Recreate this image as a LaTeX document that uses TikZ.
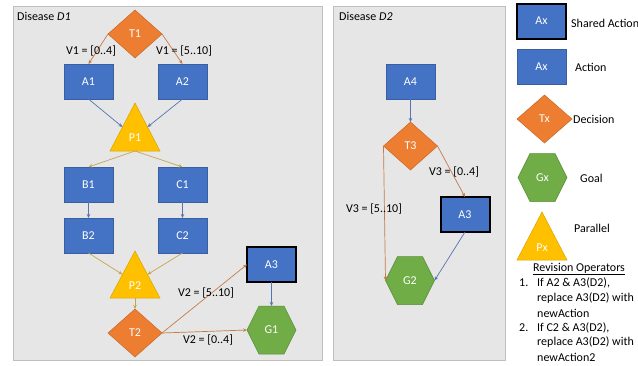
\documentclass[tikz,border=0pt]{standalone}
\usepackage{fontspec}
\setmainfont{Carlito}
\usetikzlibrary{shapes.geometric,calc,arrows.meta}
\definecolor{blu}{HTML}{4472C4}
\definecolor{bluD}{HTML}{3A5F9F}
\definecolor{org}{HTML}{ED7D31}
\definecolor{orgD}{HTML}{C8692A}
\definecolor{grn}{HTML}{70AD47}
\definecolor{grnD}{HTML}{5A8C3A}
\definecolor{gld}{HTML}{FFC000}
\definecolor{gldD}{HTML}{D9A400}
\definecolor{panel}{HTML}{E7E6E6}
\definecolor{panelD}{HTML}{BFBFBF}
\definecolor{eorg}{RGB}{197,122,72}
\definecolor{eblu}{RGB}{84,116,180}
\definecolor{egld}{RGB}{198,166,78}
\newcommand{\myhex}[1]{\draw[hexfill] (#1.west) -- ($(#1.north west)+(12,0)$) -- ($(#1.north east)+(-12,0)$) -- (#1.east) -- ($(#1.south east)+(-12,0)$) -- ($(#1.south west)+(12,0)$) -- cycle;}
\newcommand{\mytri}[1]{\draw[trifill] (#1.north) -- (#1.south east) -- (#1.south west) -- cycle;}
\begin{document}
\begin{tikzpicture}[x=1pt,y=-1pt,font=\fontsize{12}{14}\selectfont,
  actbox/.style={rectangle,fill=blu,draw=bluD,line width=0.5pt,minimum width=49pt,minimum height=35pt,inner sep=0,outer sep=0,text=white},
  sharedbox/.style={actbox,draw=black,line width=2pt},
  decbox/.style={diamond,fill=org,draw=orgD,line width=0.5pt,minimum width=54pt,minimum height=48pt,inner sep=0,outer sep=0,text=white,aspect=1.125},
  shapebox/.style={rectangle,minimum width=49pt,minimum height=48pt,inner sep=0,outer sep=0},
  hexfill/.style={fill=grn,draw=grnD,line width=0.5pt},
  trifill/.style={fill=gld,draw=gldD,line width=0.5pt},
  wtext/.style={text=white,inner sep=0},
  lbl/.style={text=black,inner sep=0},
  tip/.style={-{Stealth[length=4pt,width=3.5pt]}},
  oedge/.style={tip,draw=eorg,line width=0.7pt},
  bedge/.style={tip,draw=eblu,line width=0.7pt},
  gedge/.style={tip,draw=egld,line width=0.7pt},
  panelbox/.style={fill=panel,draw=panelD,line width=1pt}
]
\useasboundingbox (0,0) rectangle (638,365);
\fill[white] (0,0) rectangle (638,365);
% panels
\draw[panelbox] (13,6) rectangle (322,360);
\draw[panelbox] (333,6) rectangle (505,360);
\node[lbl,anchor=west] (d1) at (17,16) {Disease \textit{D1}};
\node[lbl,anchor=west] (d2) at (339,16) {Disease \textit{D2}};

% ---------- Disease D1 ----------
\node[decbox] (T1) at (135,34) {T1};
\node[actbox] (A1) at (88.5,81.5) {A1};
\node[actbox] (A2) at (182.5,81.5) {A2};
\node[shapebox,minimum width=50pt] (P1) at (135,127) {};
\mytri{P1}
\node[wtext] (P1t) at ($(P1.south)+(0,-13)$) {P1};
\node[actbox] (B1) at (88.5,184.5) {B1};
\node[actbox] (C1) at (182.5,184.5) {C1};
\node[actbox] (B2) at (88.5,235.5) {B2};
\node[actbox] (C2) at (182.5,235.5) {C2};
\node[shapebox,minimum width=50pt,minimum height=47pt] (P2) at (135,274.5) {};
\mytri{P2}
\node[wtext] (P2t) at ($(P2.south)+(0,-12)$) {P2};
\node[decbox] (T2) at (135,333) {T2};
\node[sharedbox] (A3) at (271.5,264.5) {A3};
\node[shapebox] (G1) at (271.5,330) {};
\myhex{G1}
\node[wtext] (G1t) at (G1) {G1};

\draw[oedge] (T1.west) -- (A1.north);
\draw[oedge] (T1.east) -- (A2.north);
\node[lbl] (v1a) at (91,51) {V1 = [0..4]};
\node[lbl] (v1b) at (184,51) {V1 = [5..10]};
\draw[bedge] (A1.south) -- ($(P1.north)!0.5!(P1.south west)$);
\draw[bedge] (A2.south) -- ($(P1.north)!0.5!(P1.south east)$);
\draw[gedge] (P1.south) -- (B1.north);
\draw[gedge] (P1.south) -- (C1.north);
\draw[bedge] (B1.south) -- (B2.north);
\draw[bedge] (C1.south) -- (C2.north);
\draw[gedge] (B2.south) -- ($(P2.north)!0.5!(P2.south west)$);
\draw[gedge] (C2.south) -- ($(P2.north)!0.5!(P2.south east)$);
\draw[gedge] (P2.south) -- (T2.north);
\draw[oedge] (T2.east) -- (A3.west);
\draw[oedge] (T2.east) -- (G1.west);
\draw[bedge] (A3.south) -- (G1.north);
\node[lbl] (v2a) at (206,293) {V2 = [5..10]};
\node[lbl] (v2b) at (208,340) {V2 = [0..4]};

% ---------- Disease D2 ----------
\node[actbox] (A4) at (410.5,81.5) {A4};
\node[decbox] (T3) at (410.5,146) {T3};
\node[sharedbox] (A3b) at (465,214.5) {A3};
\node[shapebox] (G2) at (410,280.5) {};
\myhex{G2}
\node[wtext] (G2t) at (G2) {G2};
\draw[bedge] (A4.south) -- (T3.north);
\draw[oedge] (T3.east) -- (A3b.north);
\draw[oedge] (T3.west) -- (G2.west);
\draw[bedge] (A3b.south) -- (G2.east);
\node[lbl] (v3a) at (454,172) {V3 = [0..4]};
\node[lbl] (v3b) at (374,209) {V3 = [5..10]};

% ---------- Legend ----------
\node[sharedbox] (LS) at (541.5,21) {Ax};
\node[lbl,anchor=west] (LSt) at (571,23) {Shared Action};
\node[actbox] (LA) at (541.5,66.5) {Ax};
\node[lbl,anchor=west] (LAt) at (575,67) {Action};
\node[decbox,minimum width=55pt] (LD) at (544.5,119) {Tx};
\node[lbl,anchor=west] (LDt) at (573,119) {Decision};
\node[shapebox] (LG) at (542.5,177.5) {};
\myhex{LG}
\node[wtext] (LGt) at (LG) {Gx};
\node[lbl,anchor=west] (LGl) at (580,178) {Goal};
\node[shapebox,minimum width=50pt] (LP) at (542,236) {};
\mytri{LP}
\node[wtext] (LPt) at ($(LP.south)+(0,-12)$) {Px};
\node[lbl,anchor=west] (LPl) at (574,228) {Parallel};
\node[lbl] (rev) at (579,269) {\underline{Revision Operators}};
\node[lbl,anchor=west] (n1) at (519,283) {1.};
\node[lbl,anchor=west] (r1) at (537,283) {If A2 \& A3(D2),};
\node[lbl,anchor=west] (r2) at (537,298) {replace A3(D2) with};
\node[lbl,anchor=west] (r3) at (537,313) {newAction};
\node[lbl,anchor=west] (n2) at (519,328) {2.};
\node[lbl,anchor=west] (r4) at (537,328) {If C2 \& A3(D2),};
\node[lbl,anchor=west] (r5) at (537,342) {replace A3(D2) with};
\node[lbl,anchor=west] (r6) at (537,357) {newAction2};
\end{tikzpicture}
\end{document}
